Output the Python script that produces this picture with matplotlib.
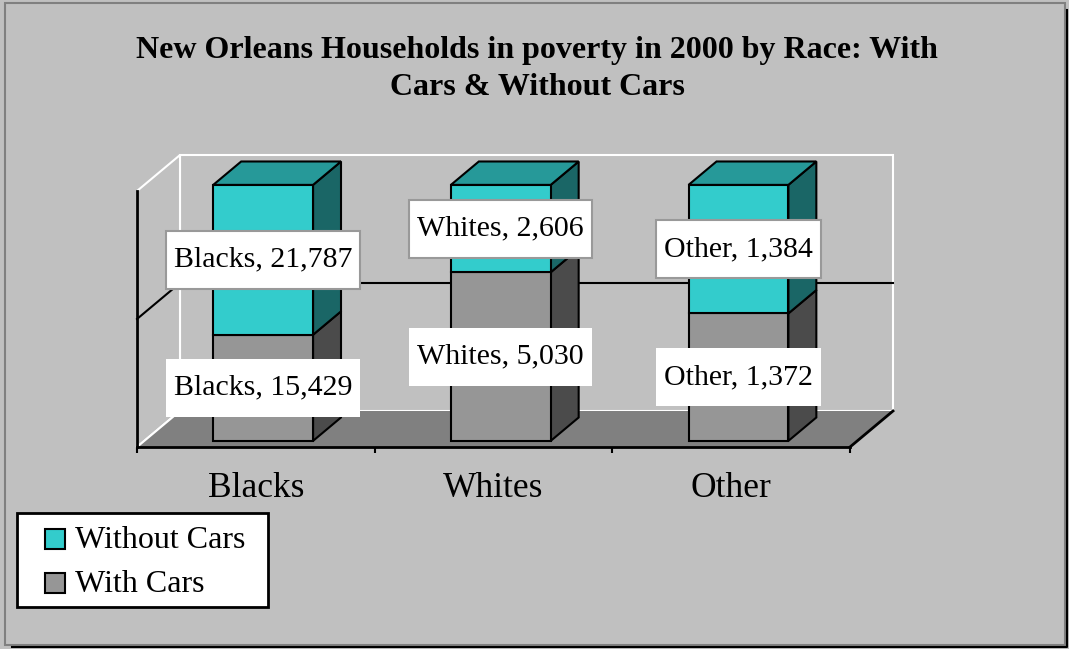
import matplotlib
matplotlib.use("Agg")
import matplotlib.pyplot as plt
from matplotlib.patches import Polygon, Rectangle
from matplotlib.lines import Line2D
from matplotlib.transforms import IdentityTransform

# ---------------- data ----------------
categories = ["Blacks", "Whites", "Other"]
with_cars = [15429, 5030, 1372]
without_cars = [21787, 2606, 1384]
series_names = ["Without Cars", "With Cars"]
title = "New Orleans Households in poverty in 2000 by Race: With\nCars & Without Cars"

# ---------------- style ----------------
plt.rcParams['font.family'] = ['Liberation Serif', 'DejaVu Serif']
BG = "#C0C0C0"
TEAL = dict(front="#33CCCC", side="#1A6666", top="#269999")
GRAY = dict(front="#969696", side="#4B4B4B", top="#777777")
FLOOR = "#808080"

W, H = 1069, 649
fig = plt.figure(figsize=(W / 100, H / 100), dpi=100)
fig.patch.set_facecolor(BG)


def fx(px):
    return px / W


def fy(py):
    return 1 - py / H


# chart-area frame with shadow
fig.add_artist(Rectangle((fx(5), fy(645)), fx(1065) - fx(5), fy(3) - fy(645),
                         transform=fig.transFigure, fill=False,
                         edgecolor="#808080", lw=1.5))
fig.add_artist(Line2D([fx(12), fx(1067), fx(1067)], [fy(647), fy(647), fy(10)],
                      color="black", lw=1.5, transform=fig.transFigure))

# axes = front plane of the 3-D plot
ax = fig.add_axes([fx(137), fy(447), fx(850) - fx(137), (447 - 191) / H])
ax.set_xlim(-0.5, len(categories) - 0.5)
ax.set_ylim(0, 100)
ax.set_facecolor("none")
for s in ("top", "right"):
    ax.spines[s].set_visible(False)
for s in ("left", "bottom"):
    ax.spines[s].set_linewidth(2)
    ax.spines[s].set_zorder(6)
ax.set_yticks([])
ax.set_xticks([i - 0.5 for i in range(len(categories) + 1)])
ax.set_xticklabels([])
ax.tick_params(axis="x", which="major", direction="out", length=4.5, width=1.5)
ax.set_xticks(range(len(categories)), minor=True)
ax.set_xticklabels(categories, minor=True, fontsize=25.5)
ax.tick_params(axis="x", which="minor", length=0, pad=18)

# oblique depth projection (depth 0 = front, 1 = back)
px_per_x = (850 - 137) / len(categories)
px_per_v = (447 - 191) / 100
KX = 43 / px_per_x
KY = 36 / px_per_v


def P(x, v, d):
    return (x + d * KX, v + d * KY)


x0, x1 = -0.5, len(categories) - 0.5
kw = dict(clip_on=False)

# back wall and left wall
ax.add_patch(Polygon([P(x0, 0, 1), P(x1, 0, 1), P(x1, 100, 1), P(x0, 100, 1)],
                     closed=True, fc=BG, ec="white", lw=1.5, zorder=1, **kw))
ax.add_patch(Polygon([P(x0, 0, 0), P(x0, 0, 1), P(x0, 100, 1), P(x0, 100, 0)],
                     closed=True, fc=BG, ec="white", lw=1.5, zorder=1, **kw))
# 50% gridline on walls
gx, gy = zip(P(x0, 50, 0), P(x0, 50, 1), P(x1, 50, 1))
ax.plot(gx, gy, color="black", lw=1.5, zorder=2, **kw)
# floor
ax.add_patch(Polygon([P(x0, 0, 0), P(x0, 0, 1), P(x1, 0, 1), P(x1, 0, 0)],
                     closed=True, fc=FLOOR, ec="none", zorder=2, **kw))
ax.plot(*zip(P(x0, 0, 0), P(x0, 0, 1)), color="white", lw=1.5, zorder=2.1, **kw)
ax.plot(*zip(P(x1, 0, 0), P(x1, 0, 1)), color="black", lw=2, zorder=2.1, **kw)

# bars
BW = 0.21
D0, D1 = 0.17, 0.82
totals = [a + b for a, b in zip(with_cars, without_cars)]
series = [(with_cars, GRAY, "none"), (without_cars, TEAL, "#999999")]
labels = []
z = 3
for i, cat in enumerate(categories):
    base = 0.0
    for k, (vals, col, box_ec) in enumerate(series):
        frac = vals[i] / totals[i] * 100
        top = base + frac
        side = [P(i + BW, base, D0), P(i + BW, base, D1), P(i + BW, top, D1), P(i + BW, top, D0)]
        front = [P(i - BW, base, D0), P(i + BW, base, D0), P(i + BW, top, D0), P(i - BW, top, D0)]
        ax.add_patch(Polygon(side, closed=True, fc=col["side"], ec="black", lw=1.5, zorder=z, **kw))
        ax.add_patch(Polygon(front, closed=True, fc=col["front"], ec="black", lw=1.5, zorder=z, **kw))
        if k == len(series) - 1:
            topf = [P(i - BW, top, D0), P(i + BW, top, D0), P(i + BW, top, D1), P(i - BW, top, D1)]
            ax.add_patch(Polygon(topf, closed=True, fc=col["top"], ec="black", lw=1.5, zorder=z, **kw))
        lx, ly = P(i, base + frac / 2, D0)
        t = ax.text(lx, ly, f"{cat}, {vals[i]:,}", ha="center", va="center", fontsize=21.5,
                    zorder=10, clip_on=False)
        labels.append((t, box_ec))
        base = top

# title
fig.text(fx(537), fy(69), title, ha="center", va="center", fontsize=23,
         fontweight="bold", linespacing=1.4)

# label boxes sized from rendered text (Excel style: wide vertical padding)
fig.canvas.draw()
renderer = fig.canvas.get_renderer()
for t, ec in labels:
    bb = t.get_window_extent(renderer)
    cx, cy = (bb.x0 + bb.x1) / 2, (bb.y0 + bb.y1) / 2
    bw, bh = bb.width + 16, 58
    ax.add_patch(Rectangle((cx - bw / 2, cy - bh / 2), bw, bh, transform=IdentityTransform(),
                           fc="white", ec=ec, lw=1.5, zorder=9, clip_on=False))

# legend (Excel style)
leg_colors = [TEAL["front"], GRAY["front"]]
fig.add_artist(Rectangle((fx(17), fy(607)), fx(268) - fx(17), fy(513) - fy(607),
                         transform=fig.transFigure, fc="white", ec="black", lw=2))
for j, (name, c) in enumerate(zip(series_names, leg_colors)):
    yc = 539 + 44 * j
    fig.add_artist(Rectangle((fx(45), fy(yc + 10)), fx(65) - fx(45), fy(yc - 10) - fy(yc + 10),
                             transform=fig.transFigure, fc=c, ec="black", lw=1.5))
    fig.text(fx(75), fy(yc + 1), name, ha="left", va="center", fontsize=23)

fig.savefig("out.png", dpi=100, facecolor=BG)
